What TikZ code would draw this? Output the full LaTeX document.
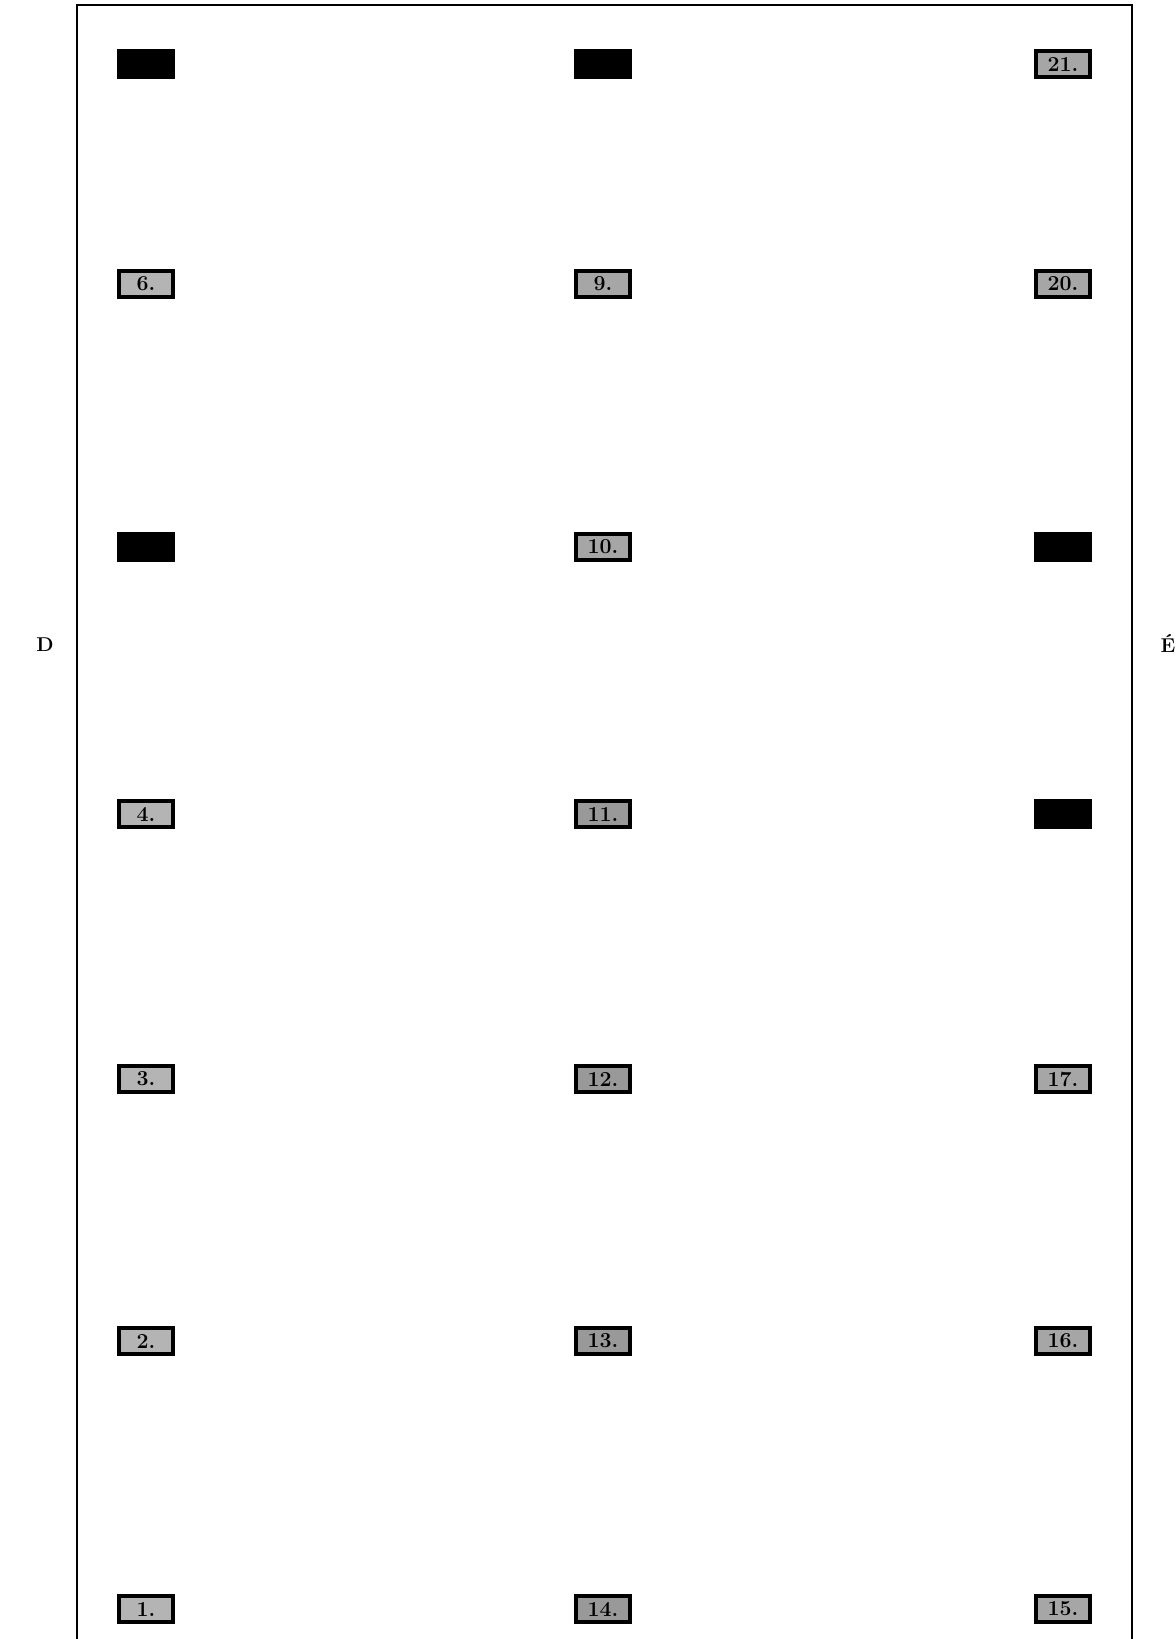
\documentclass[tikz,border=0pt]{standalone}
\usepackage{xcolor}
\usepackage{tikz}
\definecolor{boxlight}{HTML}{B4B4B4}
\definecolor{boxmid}{HTML}{A6A6A6}
\definecolor{boxdark}{HTML}{999999}

\begin{document}
\begin{tikzpicture}[
    x=0.75pt, y=-0.75pt,
    frame/.style={draw, line width=2pt},
    numbox/.style={draw=black, line width=2.8pt, fill=#1, minimum width=41pt, minimum height=19pt, inner sep=0pt, font=\fontsize{16}{16}\selectfont\bfseries},
    hidbox/.style={draw=black, line width=2.8pt, fill=black, minimum width=41pt, minimum height=19pt, inner sep=0pt},
    side/.style={font=\fontsize{15}{15}\selectfont\bfseries},
]
    \useasboundingbox (0,0) rectangle (1175,1639);

    % outer frame, open at the bottom
    \draw[frame] (77,1639) -- (77,5) -- (1132,5) -- (1132,1639);

    % left column
    \node[hidbox] (s7) at (146,64) {};
    \node[numbox=boxlight] (s6) at (146,284) {6.};
    \node[hidbox] (s5) at (146,547) {};
    \node[numbox=boxlight] (s4) at (146,814) {4.};
    \node[numbox=boxlight] (s3) at (146,1079) {3.};
    \node[numbox=boxlight] (s2) at (146,1341) {2.};
    \node[numbox=boxlight] (s1) at (146,1609) {1.};

    % middle column
    \node[hidbox] (s8) at (603,64) {};
    \node[numbox=boxmid] (s9) at (603,284) {9.};
    \node[numbox=boxmid] (s10) at (603,547) {10.};
    \node[numbox=boxdark] (s11) at (603,814) {11.};
    \node[numbox=boxdark] (s12) at (603,1079) {12.};
    \node[numbox=boxdark] (s13) at (603,1341) {13.};
    \node[numbox=boxdark] (s14) at (603,1609) {14.};

    % right column
    \node[numbox=boxmid] (s21) at (1063,64) {21.};
    \node[numbox=boxmid] (s20) at (1063,284) {20.};
    \node[hidbox] (s19) at (1063,547) {};
    \node[hidbox] (s18) at (1063,814) {};
    \node[numbox=boxmid] (s17) at (1063,1079) {17.};
    \node[numbox=boxmid] (s16) at (1063,1341) {16.};
    \node[numbox=boxmid] (s15) at (1063,1609) {15.};

    % sides
    \node[side] (west) at (45,645) {D};
    \node[side] (east) at (1168,643) {É};
\end{tikzpicture}
\end{document}
